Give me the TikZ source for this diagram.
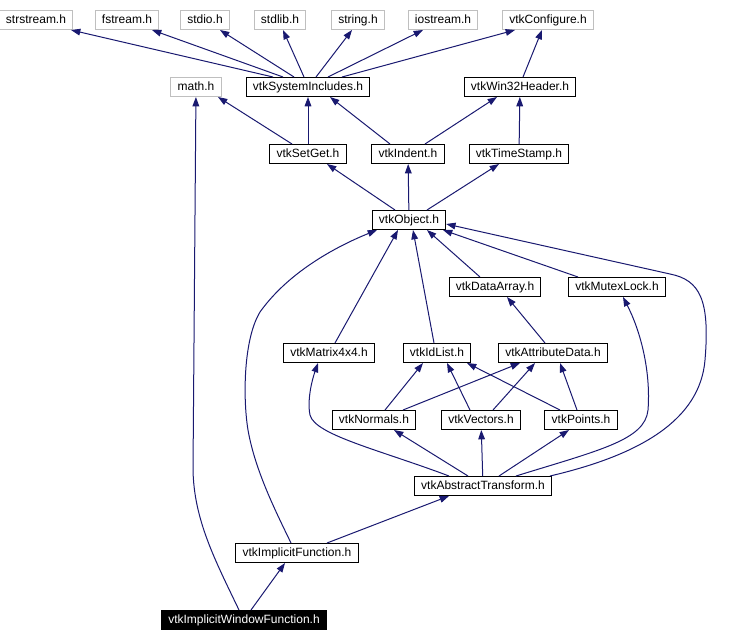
\documentclass[tikz,border=0pt]{standalone}
\usepackage{fontspec}
\setmainfont{Liberation Sans}
\usetikzlibrary{arrows.meta, calc}
\definecolor{edgeblue}{RGB}{25,25,112}
\definecolor{extgray}{RGB}{191,191,191}

\begin{document}
\begin{tikzpicture}[
  x=0.75pt, y=-0.75pt,
  hdr/.style={draw,line width=0.75pt,inner xsep=5pt,inner ysep=0pt,
  minimum height=14.25pt,text height=6.6pt,text depth=1.9pt,
  font=\fontsize{9}{10}\selectfont},
  ext/.style={hdr,draw=extgray},
  cur/.style={hdr,fill=black,text=white},
  dep/.style={draw=edgeblue,line width=0.75pt,-{Triangle[length=7pt,width=5pt]}},
]
\useasboundingbox (0,0) rectangle (734,642);
\node[ext] (str)    at (36,20)  {strstream.h};
\node[ext] (fst)    at (127,20) {fstream.h};
\node[ext] (stdio)  at (205,20) {stdio.h};
\node[ext] (stdlib) at (280,20) {stdlib.h};
\node[ext] (string) at (358,20) {string.h};
\node[ext] (ios)    at (443,20) {iostream.h};
\node[ext] (cfg)    at (548,20) {vtkConfigure.h};
\node[ext] (math)   at (196,87) {math.h};
\node[hdr] (sys)    at (308,87) {vtkSystemIncludes.h};
\node[hdr] (win)    at (520,87) {vtkWin32Header.h};
\node[hdr] (setget) at (308,154) {vtkSetGet.h};
\node[hdr] (indent) at (408,154) {vtkIndent.h};
\node[hdr] (tstamp) at (519,154) {vtkTimeStamp.h};
\node[hdr] (obj)    at (409,220) {vtkObject.h};
\node[hdr] (darray) at (495,287) {vtkDataArray.h};
\node[hdr] (mutex)  at (617,287) {vtkMutexLock.h};
\node[hdr] (matrix) at (329,353) {vtkMatrix4x4.h};
\node[hdr] (idlist) at (437,353) {vtkIdList.h};
\node[hdr] (attr)   at (553,353) {vtkAttributeData.h};
\node[hdr] (normals) at (374,420) {vtkNormals.h};
\node[hdr] (vectors) at (481,420) {vtkVectors.h};
\node[hdr] (points)  at (581,420) {vtkPoints.h};
\node[hdr] (abstr)  at (483,486) {vtkAbstractTransform.h};
\node[hdr] (implf)  at (297,553) {vtkImplicitFunction.h};
\node[cur] (implw)  at (244,620) {vtkImplicitWindowFunction.h};

\draw[dep] ($(sys.north)+(-35,0)$) -- ($(str.south)+(35,0)$);
\draw[dep] ($(sys.north)+(-25,0)$) -- ($(fst.south)+(25,0)$);
\draw[dep] ($(sys.north)+(-14,0)$) -- ($(stdio.south)+(15,0)$);
\draw[dep] ($(sys.north)+(-4,0)$) -- ($(stdlib.south)+(3,0)$);
\draw[dep] ($(sys.north)+(8,0)$) -- ($(string.south)+(-6,0)$);
\draw[dep] ($(sys.north)+(20,0)$) -- ($(ios.south)+(-20,0)$);
\draw[dep] ($(sys.north)+(34,0)$) -- ($(cfg.south)+(-33,0)$);
\draw[dep] ($(win.north)+(3,0)$) -- ($(cfg.south)+(-6,0)$);
\draw[dep] ($(setget.north)+(-16,0)$) -- ($(math.south)+(22,0)$);
\draw[dep] (setget) -- (sys);
\draw[dep] ($(indent.north)+(-18,0)$) -- ($(sys.south)+(22,0)$);
\draw[dep] ($(indent.north)+(17,0)$) -- ($(win.south)+(-23,0)$);
\draw[dep] (tstamp) -- (win);
\draw[dep] ($(obj.north)+(-14,0)$) -- ($(setget.south)+(19,0)$);
\draw[dep] (obj) -- (indent);
\draw[dep] ($(obj.north)+(18,0)$) -- ($(tstamp.south)+(-20,0)$);
\draw[dep] ($(darray.north)+(-15,0)$) -- ($(obj.south)+(18,0)$);
\draw[dep] ($(mutex.north)+(-39,0)$) -- ($(obj.south)+(34,0)$);
\draw[dep] ($(matrix.north)+(6,0)$) -- ($(obj.south)+(-11,0)$);
\draw[dep] ($(idlist.north)+(-3,0)$) -- ($(obj.south)+(4,0)$);
\draw[dep] ($(attr.north)+(-8,0)$) -- ($(darray.south)+(12,0)$);
\draw[dep] ($(normals.north)+(11,0)$) -- ($(idlist.south)+(-14,0)$);
\draw[dep] ($(normals.north)+(29,0)$) -- ($(attr.south)+(-33,0)$);
\draw[dep] ($(vectors.north)+(-11,0)$) -- ($(idlist.south)+(10,0)$);
\draw[dep] ($(vectors.north)+(12,0)$) -- ($(attr.south)+(-18,0)$);
\draw[dep] ($(points.north)+(-21,0)$) -- ($(idlist.south)+(30,0)$);
\draw[dep] ($(points.north)+(-4,0)$) -- ($(attr.south)+(7,0)$);
\draw[dep] ($(abstr.north)+(-15,0)$) -- ($(normals.south)+(20,0)$);
\draw[dep] (abstr) -- (vectors);
\draw[dep] ($(abstr.north)+(16,0)$) -- ($(points.south)+(-12,0)$);
\draw[dep] ($(abstr.north)+(-34,0)$) .. controls (380,450) and (315,435) .. (310,415)
  .. controls (307,400) and (312,380) .. ($(matrix.south)+(-11,0)$);
\draw[dep] ($(abstr.north)+(33,0)$) .. controls (600,450) and (645,440) .. (648,410)
  .. controls (651,370) and (640,330) .. ($(mutex.south)+(6,0)$);
\draw[dep] ($(abstr.north)+(67,0)$) .. controls (640,455) and (700,420) .. (705,360)
  .. controls (710,300) and (700,280) .. (670,274) -- ($(obj.east)+(0,4)$);
\draw[dep] ($(implf.north)+(30,0)$) -- ($(abstr.south)+(-34,0)$);
\draw[dep] ($(implf.north)+(-6,0)$) .. controls (275,510) and (255,470) .. (248,430)
  .. controls (243,400) and (243,340) .. (260,312)
  .. controls (290,270) and (340,245) .. ($(obj.south)+(-32,0)$);
\draw[dep] ($(implw.north)+(7,0)$) -- ($(implf.south)+(-12,0)$);
\draw[dep] ($(implw.north)+(-5,0)$) .. controls (215,560) and (194,520) .. (193,470) -- (math);
\end{tikzpicture}
\end{document}
